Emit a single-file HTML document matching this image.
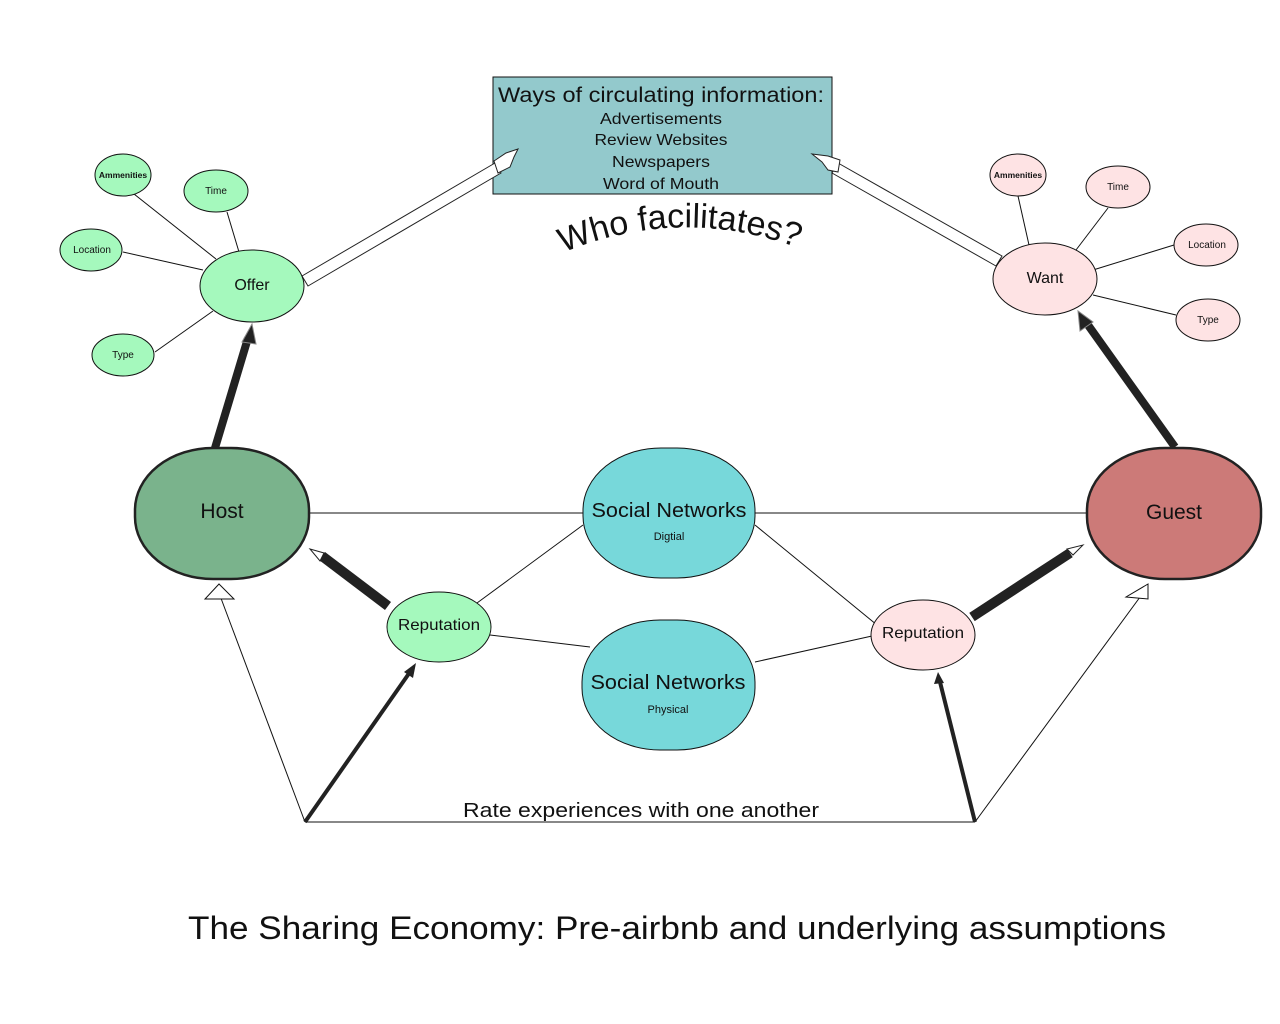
<!DOCTYPE html>
<html><head><meta charset="utf-8"><style>
html,body{margin:0;padding:0;background:#fff;}
svg{display:block;}
text{font-family:"Liberation Sans",sans-serif;fill:#111;}
</style></head><body>
<svg width="1280" height="1024" viewBox="0 0 1280 1024" xmlns="http://www.w3.org/2000/svg">
<g stroke="#111" stroke-width="1" fill="none">
<line x1="309" y1="513" x2="1087" y2="513"/>
<line x1="477" y1="603" x2="583" y2="525"/>
<line x1="490" y1="635" x2="590" y2="647"/>
<line x1="755" y1="525" x2="877" y2="625"/>
<line x1="755" y1="662" x2="872" y2="636"/>
<line x1="305" y1="822" x2="975" y2="822"/>
<line x1="305" y1="822" x2="219" y2="593"/>
<line x1="975" y1="822" x2="1143" y2="593"/>
<line x1="134" y1="194" x2="216" y2="259"/>
<line x1="227" y1="212" x2="239" y2="252"/>
<line x1="123" y1="252" x2="203" y2="270"/>
<line x1="155" y1="352" x2="213" y2="311"/>
<line x1="1018" y1="196" x2="1029" y2="245"/>
<line x1="1108" y1="208" x2="1076" y2="250"/>
<line x1="1174" y1="245" x2="1093" y2="270"/>
<line x1="1176" y1="315" x2="1093" y2="295"/>
</g>
<polygon points="219,584 205,599 234,599" fill="#fff" stroke="#111" stroke-width="1"/>
<polygon points="1148,584 1126,597 1148,599" fill="#fff" stroke="#111" stroke-width="1"/>
<g stroke="#222" stroke-linecap="butt">
<line x1="215" y1="448" x2="248" y2="338" stroke-width="8"/>
<line x1="1175" y1="447" x2="1088" y2="325" stroke-width="8"/>
<line x1="388" y1="606" x2="322" y2="556" stroke-width="10"/>
<line x1="972" y1="617" x2="1070" y2="553" stroke-width="10"/>
<line x1="305" y1="822" x2="410" y2="672" stroke-width="4"/>
<line x1="975" y1="822" x2="940" y2="682" stroke-width="4"/>
</g>
<polygon points="252,324 242,342 256,344" fill="#222" stroke="#888"/>
<polygon points="1078,311 1080,331 1093,322" fill="#222" stroke="#888"/>
<polygon points="416,663 404,672 413,678" fill="#222"/>
<polygon points="938,672 934,684 944,683" fill="#222"/>
<path d="M310,549 l14,4 l-4,8 z" fill="#fff" stroke="#222"/>
<path d="M1083,545 l-10,10 l-6,-6 z" fill="#fff" stroke="#222"/>
<rect x="493" y="77" width="339" height="117" fill="#93c9cc" stroke="#111" stroke-width="1"/>
<text x="661" y="102" font-size="21" text-anchor="middle" textLength="326" lengthAdjust="spacingAndGlyphs">Ways of circulating information:</text>
<text x="661" y="124" font-size="16" text-anchor="middle" textLength="122" lengthAdjust="spacingAndGlyphs">Advertisements</text>
<text x="661" y="145" font-size="16" text-anchor="middle" textLength="133" lengthAdjust="spacingAndGlyphs">Review Websites</text>
<text x="661" y="167" font-size="16" text-anchor="middle" textLength="98" lengthAdjust="spacingAndGlyphs">Newspapers</text>
<text x="661" y="189" font-size="16" text-anchor="middle" textLength="116" lengthAdjust="spacingAndGlyphs">Word of Mouth</text>
<polygon points="302,276 495,163 501,173 308,286" fill="#fff" stroke="#222" stroke-width="1"/>
<path d="M494,161 l12,-8 l12,-4 l-4,8 l-4,10 l-12,6 z" fill="#fff" stroke="#222"/>
<polygon points="1002,256 838,163 832,173 996,266" fill="#fff" stroke="#222" stroke-width="1"/>
<path d="M840,160 l-12,-4 l-16,-2 l10,8 l6,8 l10,2 z" fill="#fff" stroke="#222"/>
<path id="arc" d="M538,264 Q680,194 823,258" fill="none"/>
<text font-size="34"><textPath href="#arc" startOffset="50%" text-anchor="middle">Who facilitates?</textPath></text>
<rect x="135" y="448" width="174" height="131" rx="78" ry="62" fill="#7ab38c" stroke="#222" stroke-width="2.5"/>
<text x="222" y="518" font-size="21" text-anchor="middle">Host</text>
<rect x="1087" y="448" width="174" height="131" rx="78" ry="62" fill="#cc7a78" stroke="#222" stroke-width="2.5"/>
<text x="1174" y="519" font-size="21" text-anchor="middle">Guest</text>
<rect x="583" y="448" width="172" height="130" rx="78" ry="62" fill="#77d8da" stroke="#111" stroke-width="1"/>
<text x="669" y="517" font-size="20" text-anchor="middle" textLength="155" lengthAdjust="spacingAndGlyphs">Social Networks</text>
<text x="669" y="540" font-size="11" text-anchor="middle">Digtial</text>
<rect x="582" y="620" width="173" height="130" rx="78" ry="62" fill="#77d8da" stroke="#111" stroke-width="1"/>
<text x="668" y="689" font-size="20" text-anchor="middle" textLength="155" lengthAdjust="spacingAndGlyphs">Social Networks</text>
<text x="668" y="713" font-size="11" text-anchor="middle">Physical</text>
<g stroke="#111" stroke-width="1">
<ellipse cx="252" cy="286" rx="52" ry="36" fill="#a5f9bd"/>
<ellipse cx="439" cy="627" rx="52" ry="35" fill="#a5f9bd"/>
<ellipse cx="1045" cy="279" rx="52" ry="36" fill="#fee3e4"/>
<ellipse cx="923" cy="635" rx="52" ry="35" fill="#fee3e4"/>
<ellipse cx="123" cy="175" rx="28" ry="21" fill="#a5f9bd"/>
<ellipse cx="216" cy="191" rx="32" ry="21" fill="#a5f9bd"/>
<ellipse cx="91" cy="250" rx="31" ry="21" fill="#a5f9bd"/>
<ellipse cx="123" cy="355" rx="31" ry="21" fill="#a5f9bd"/>
<ellipse cx="1018" cy="175" rx="28" ry="21" fill="#fee3e4"/>
<ellipse cx="1118" cy="187" rx="32" ry="21" fill="#fee3e4"/>
<ellipse cx="1206" cy="245" rx="32" ry="21" fill="#fee3e4"/>
<ellipse cx="1208" cy="320" rx="32" ry="21" fill="#fee3e4"/>
</g>
<text x="252" y="290" font-size="16" text-anchor="middle">Offer</text>
<text x="439" y="630" font-size="16" text-anchor="middle" textLength="82" lengthAdjust="spacingAndGlyphs">Reputation</text>
<text x="1045" y="283" font-size="16" text-anchor="middle">Want</text>
<text x="923" y="638" font-size="16" text-anchor="middle" textLength="82" lengthAdjust="spacingAndGlyphs">Reputation</text>
<g font-size="10" text-anchor="middle">
<text x="123" y="178" font-size="8.5" font-weight="bold">Ammenities</text>
<text x="216" y="194">Time</text>
<text x="92" y="253">Location</text>
<text x="123" y="358">Type</text>
<text x="1018" y="178" font-size="8.5" font-weight="bold">Ammenities</text>
<text x="1118" y="190">Time</text>
<text x="1207" y="248">Location</text>
<text x="1208" y="323">Type</text>
</g>
<text x="641" y="817" font-size="20" text-anchor="middle" fill="#222" textLength="356" lengthAdjust="spacingAndGlyphs">Rate experiences with one another</text>
<text x="677" y="939" font-size="32" text-anchor="middle" textLength="978" lengthAdjust="spacingAndGlyphs">The Sharing Economy: Pre-airbnb and underlying assumptions</text>
</svg>
</body></html>
